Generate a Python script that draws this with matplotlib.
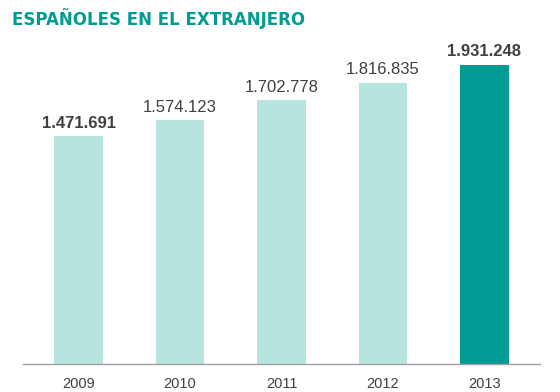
import matplotlib
matplotlib.use("Agg")
import matplotlib.pyplot as plt

years = ["2009", "2010", "2011", "2012", "2013"]
values = [1471691, 1574123, 1702778, 1816835, 1931248]
labels = ["1.471.691", "1.574.123", "1.702.778", "1.816.835", "1.931.248"]
bold = [True, False, False, False, True]

LIGHT = "#b8e4e0"
DARK = "#009b93"
TEXT = "#404040"

plt.rcParams["font.family"] = ["Liberation Sans", "DejaVu Sans"]

fig = plt.figure(figsize=(5.6, 3.92), dpi=100)
ax = fig.add_axes([23 / 560, 28 / 392, 517 / 560, 299 / 392])

x = range(len(years))
colors = [LIGHT] * (len(years) - 1) + [DARK]
ax.bar(x, values, width=0.48, color=colors)

for i, (v, lab, b) in enumerate(zip(values, labels, bold)):
    ax.annotate(lab, (i, v), xytext=(0, 4), textcoords="offset points",
                ha="center", va="bottom", fontsize=12, color=TEXT,
                fontweight="bold" if b else "normal")

ax.set_xlim(-0.547, 4.547)
ax.set_ylim(0, max(values))
ax.set_xticks(list(x))
ax.set_xticklabels(years, fontsize=10.5, color=TEXT)
ax.tick_params(axis="x", length=0, pad=9)
ax.set_yticks([])
for s in ["top", "right", "left"]:
    ax.spines[s].set_visible(False)
ax.spines["bottom"].set_color("#a0a0a0")
ax.spines["bottom"].set_linewidth(1)

fig.text(12 / 560, 1 - 19 / 392, "ESPAÑOLES EN EL EXTRANJERO", fontsize=12,
         fontweight="bold", color=DARK, va="center", ha="left",
         family=["DejaVu Sans"])

fig.savefig("out.png", dpi=100)
